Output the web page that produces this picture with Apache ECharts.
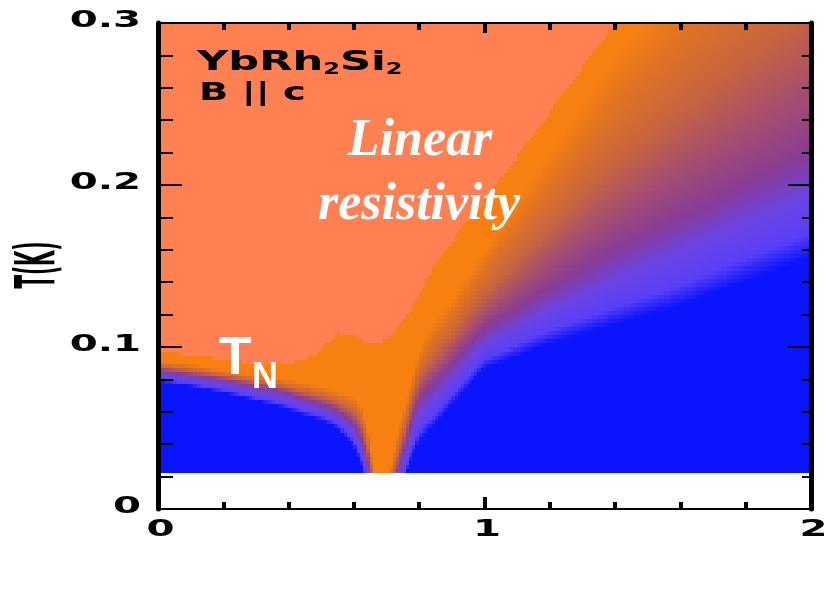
<!DOCTYPE html>
<html>
<head>
<meta charset="utf-8">
<script src="https://cdn.jsdelivr.net/npm/echarts@6/dist/echarts.min.js"></script>
<style>
  html, body { margin: 0; padding: 0; background: #fff; }
  #main { width: 825px; height: 611px; }
</style>
</head>
<body>
<div id="main"></div>
<script>
// 读自图中的边界 (B in T, temperatures in K)
const xKnots  = [0,     0.1,   0.2,   0.3,   0.38,  0.45,  0.5,   0.55,  0.6,   0.63,  0.65,  0.67,  0.7,   0.72,  0.745, 0.775, 0.8,   0.845, 0.9,   1.0,   1.2,   1.4,   1.6,   1.8,   2.0];
// top of the blue (T^2) region
const tBlue   = [0.079, 0.076, 0.072, 0.067, 0.063, 0.058, 0.055, 0.050, 0.040, 0.024, 0.008, 0.0,   0.0,   0.0,   0.012, 0.030, 0.042, 0.051, 0.064, 0.087, 0.102, 0.114, 0.126, 0.141, 0.155];
// centre of the purple band
const tMid    = [0.086, 0.083, 0.080, 0.076, 0.073, 0.068, 0.065, 0.061, 0.053, 0.042, 0.025, 0.0,   0.0,   0.012, 0.030, 0.052, 0.068, 0.078, 0.090, 0.112, 0.137, 0.160, 0.180, 0.200, 0.220];
// where it becomes fully orange
const tOrange = [0.092, 0.090, 0.086, 0.083, 0.081, 0.078, 0.076, 0.073, 0.070, 0.062, 0.045, 0.008, 0.008, 0.035, 0.055, 0.078, 0.098, 0.115, 0.130, 0.160, 0.220, 0.280, 0.330, 0.375, 0.420];
// onset of linear resistivity
const tLinear = [0.097, 0.096, 0.093, 0.090, 0.090, 0.092, 0.098, 0.109, 0.107, 0.104, 0.103, 0.103, 0.104, 0.108, 0.115, 0.123, 0.132, 0.150, 0.165, 0.190, 0.245, 0.300, 0.355, 0.410, 0.465];
const tBottom = 0.0225;   // lowest measured temperature

const xTickValues = [0, 1, 2];
const xTickLabels = ['0', '1', '2'];
const yTickValues = [0, 0.1, 0.2, 0.3];
const yTickLabels = ['0', '0.1', '0.2', '0.3'];

// 颜色
const levelStops = [0, 0.12, 0.3, 0.5, 0.72, 0.88, 1];
const levelColors = ['#0a14ff', '#5a3ff8', '#6c44e4', '#8a3c96', '#c8643f', '#e17320', '#f88010'];
const linearColor = '#ff8052';

function along(arr, x) {
    for (let i = 0; i < xKnots.length - 1; i++) {
        if (x <= xKnots[i + 1]) {
            const f = (x - xKnots[i]) / (xKnots[i + 1] - xKnots[i]);
            return arr[i] + f * (arr[i + 1] - arr[i]);
        }
    }
    return arr[arr.length - 1];
}

function level(x, t) {
    const lo = along(tBlue, x), mid = along(tMid, x), hi = along(tOrange, x), lin = along(tLinear, x);
    if (t >= lin) return 2;
    if (t <= lo) return 0;
    if (t <= mid) return 0.5 * (t - lo) / Math.max(mid - lo, 1e-6);
    if (t <= hi) return 0.5 + 0.5 * (t - mid) / Math.max(hi - mid, 1e-6);
    return 1;
}

function hexRgb(h) {
    return [parseInt(h.slice(1, 3), 16), parseInt(h.slice(3, 5), 16), parseInt(h.slice(5, 7), 16)];
}
const stopRgb = levelColors.map(hexRgb);

function colourOf(v) {
    if (v > 1.5) return linearColor;
    for (let i = 0; i < levelStops.length - 1; i++) {
        if (v <= levelStops[i + 1]) {
            const f = (v - levelStops[i]) / (levelStops[i + 1] - levelStops[i]);
            const a = stopRgb[i], b = stopRgb[i + 1];
            return 'rgb(' + a.map((c, k) => Math.round(c + f * (b[k] - c))).join(',') + ')';
        }
    }
    return levelColors[levelColors.length - 1];
}

// 网格单元
const cells = [];
const dx = 0.01, dt = 0.0025;
for (let i = 0; i < 200; i++) {
    const x0 = i * dx;
    for (let j = 0; j < 111; j++) {
        const t0 = tBottom + j * dt;
        cells.push([x0, x0 + dx, t0, t0 + dt, level(x0 + dx / 2, t0 + dt / 2)]);
    }
}

const chart = echarts.init(document.getElementById('main'));

function xAxisOf(pos, major) {
    return {
        type: 'value', position: pos, min: 0, max: 2, interval: 1, z: 10,
        axisLine: { show: true, onZero: false, lineStyle: { color: '#000', width: 2 } },
        axisTick: { show: true, inside: true, length: major, lineStyle: { color: '#000', width: 4 } },
        minorTick: { show: true, splitNumber: 5, length: 7, lineStyle: { color: '#000', width: 4 } },
        axisLabel: { show: false },
        splitLine: { show: false }
    };
}
function yAxisOf(pos, major, minor) {
    return {
        type: 'value', position: pos, min: 0, max: 0.3, interval: 0.1, z: 10,
        axisLine: { show: true, onZero: false, lineStyle: { color: '#000', width: 5 } },
        axisTick: { show: true, inside: true, length: major, lineStyle: { color: '#000', width: 2 } },
        minorTick: { show: true, splitNumber: 5, length: minor, lineStyle: { color: '#000', width: 2 } },
        axisLabel: { show: false },
        splitLine: { show: false }
    };
}

chart.setOption({
    animation: false,
    backgroundColor: '#fff',
    grid: { left: 158, top: 23, right: 14, bottom: 102 },
    xAxis: [xAxisOf('bottom', 12), xAxisOf('top', 10)],
    yAxis: [yAxisOf('left', 24, 15), yAxisOf('right', 23, 9)],
    series: [{
        type: 'custom',
        silent: true,
        progressive: 0,
        encode: { x: [0, 1], y: [2, 3] },
        data: cells,
        renderItem: (params, api) => {
            const p0 = api.coord([api.value(0), api.value(3)]);
            const p1 = api.coord([api.value(1), api.value(2)]);
            const x = Math.floor(p0[0]), y = Math.floor(p0[1]);
            return {
                type: 'rect',
                shape: { x: x, y: y, width: Math.ceil(p1[0]) - x, height: Math.ceil(p1[1]) - y },
                style: { fill: colourOf(api.value(4)) }
            };
        }
    }]
});

// 坐标轴标签和注释
const tickFont = 'bold 23px "DejaVu Sans"';
const graphics = [];
yTickValues.forEach((v, i) => {
    const py = chart.convertToPixel({ yAxisIndex: 0 }, v);
    graphics.push({
        type: 'text', x: 141, y: py - 1.5, scaleX: 1.75, z: 20,
        style: { text: yTickLabels[i], font: tickFont, fill: '#000', align: 'right', verticalAlign: 'middle', textAlign: 'right', textVerticalAlign: 'middle' }
    });
});
xTickValues.forEach((v, i) => {
    const px = chart.convertToPixel({ xAxisIndex: 0 }, v);
    graphics.push({
        type: 'text', x: px + 2.5, y: 530, scaleX: 1.75, z: 20,
        style: { text: xTickLabels[i], font: tickFont, fill: '#000', align: 'center', verticalAlign: 'middle', textAlign: 'center', textVerticalAlign: 'middle' }
    });
});

function label(x, y, text, font, fill, align, scaleX, rich) {
    return {
        type: 'text', x: x, y: y, scaleX: scaleX || 1, z: 20,
        style: { text: text, font: font, fill: fill, align: align, verticalAlign: 'middle', textAlign: align, textVerticalAlign: 'middle', rich: rich }
    };
}

graphics.push({
    type: 'text', x: 40, y: 265, rotation: Math.PI / 2, scaleX: 0.36, z: 20,
    style: { text: 'T(K)', font: 'bold 55px "DejaVu Sans"', fill: '#000', align: 'center', verticalAlign: 'middle', textAlign: 'center', textVerticalAlign: 'middle' }
});
graphics.push(label(197, 63, 'YbRh{s|2}Si{s|2}', 'bold 27px "DejaVu Sans"', '#000', 'left', 1.6,
    { s: { font: 'bold 15px "DejaVu Sans"', fill: '#000', padding: [14, 0, 0, 0] } }));
graphics.push(label(199, 94, 'B || c', 'bold 24px "DejaVu Sans"', '#000', 'left', 1.6));
graphics.push(label(420, 142, 'Linear', 'italic bold 52px "Liberation Serif"', '#fff', 'center'));
graphics.push(label(419, 206, 'resistivity', 'italic bold 52px "Liberation Serif"', '#fff', 'center'));
graphics.push(label(219, 359, 'T', 'bold 53px "Liberation Sans"', '#fff', 'left'));
graphics.push(label(252, 378, 'N', 'bold 36px "Liberation Sans"', '#fff', 'left'));

chart.setOption({ graphic: graphics });
</script>
</body>
</html>
